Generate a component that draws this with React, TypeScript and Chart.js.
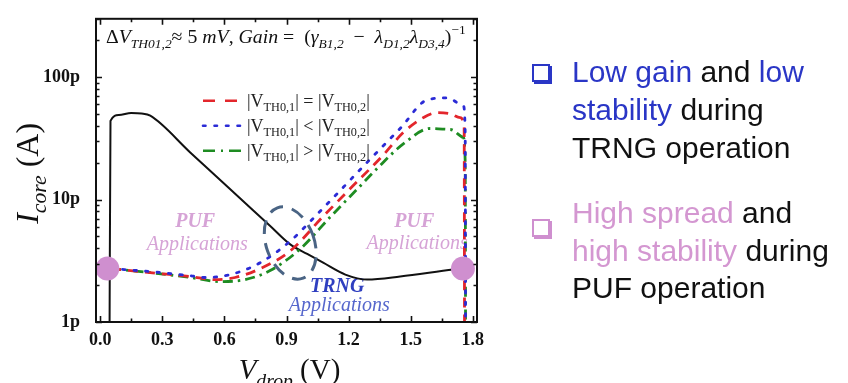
import { useEffect, useRef } from 'react';
import { Chart, registerables } from 'chart.js';

Chart.register(...registerables);

const SERIF = '"Liberation Serif", "Times New Roman", serif';
const SANS = '"Liberation Sans", Arial, sans-serif';

// ---- data (V in volts, I in pA) ----
const blackV = [0.045, 0.05, 0.09, 0.15, 0.2, 0.242, 0.435, 0.627, 0.82, 0.918, 1.0, 1.077, 1.184, 1.29, 1.449, 1.705, 1.749];
const blackI = [0.5, 44, 49, 51, 50.5, 48.5, 24.3, 12.2, 6.12, 4.31, 3.6, 3.05, 2.44, 2.22, 2.35, 2.68, 2.73];

const redV = [0.053, 0.242, 0.435, 0.556, 0.652, 0.773, 0.918, 1.077, 1.208, 1.367, 1.464, 1.56, 1.628, 1.691, 1.739, 1.758, 1.76];
const redI = [2.73, 2.53, 2.35, 2.22, 2.31, 2.73, 3.81, 7.29, 12.3, 23.1, 35.3, 46.7, 51.3, 50.3, 46.7, 38.8, 0.5];

const blueV = [0.053, 0.242, 0.435, 0.507, 0.628, 0.773, 0.918, 1.029, 1.174, 1.304, 1.449, 1.58, 1.676, 1.754, 1.763, 1.765];
const blueI = [2.73, 2.58, 2.39, 2.31, 2.44, 3.05, 4.58, 7.03, 12.6, 21.4, 38.1, 65.3, 67.7, 58.3, 35.3, 0.5];

const greenV = [0.053, 0.242, 0.435, 0.58, 0.7, 0.821, 0.966, 1.111, 1.242, 1.338, 1.464, 1.594, 1.691, 1.754, 1.763, 1.765];
const greenI = [2.73, 2.53, 2.31, 2.14, 2.22, 2.63, 3.95, 7.2, 12.2, 18.0, 28.5, 38.1, 37.4, 32.2, 20.3, 0.5];

const circleV = [0.035, 1.752];
const circleI = [2.73, 2.73];

const xTickValues = [0, 0.3, 0.6, 0.9, 1.2, 1.5, 1.8];
const xTickLabels = ['0.0', '0.3', '0.6', '0.9', '1.2', '1.5', '1.8'];
const yTickValues = [1, 10, 100];
const yTickLabels = ['1p', '10p', '100p'];

const RED = '#e3262c';
const BLUE = '#2b2bd6';
const GREEN = '#1e8c22';
const PINK = '#cf8fcf';
const PINK_T = '#d6a3d6';
const BLUE_T = '#2f3fc0';
const BLUE_T2 = '#5566cc';

type Part = { t: string; i?: boolean; b?: boolean; sub?: boolean; sup?: boolean };

const topText: Part[] = [
  { t: 'Δ' }, { t: 'V', i: true }, { t: 'TH01,2', i: true, sub: true }, { t: '≈ 5 ' }, { t: 'mV', i: true },
  { t: ', ' }, { t: 'Gain', i: true }, { t: ' =  (' }, { t: 'γ', i: true }, { t: 'B1,2', i: true, sub: true },
  { t: '  −  ' }, { t: 'λ', i: true }, { t: 'D1,2', i: true, sub: true }, { t: 'λ', i: true },
  { t: 'D3,4', i: true, sub: true }, { t: ')' }, { t: '−1', sup: true },
];

const legendItems = [
  { color: RED, dash: [12, 10], cap: 'butt', sub2: '=' },
  { color: BLUE, dash: [2.5, 9], cap: 'round', sub2: '<' },
  { color: GREEN, dash: [12, 6, 2, 6], cap: 'butt', sub2: '>' },
];

const textNotes = [
  { t: 'PUF', v: 0.459, i: 6.53, b: true, it: true, color: PINK_T, size: 20 },
  { t: 'Applications', v: 0.469, i: 4.26, b: false, it: true, color: PINK_T, size: 20 },
  { t: 'PUF', v: 1.517, i: 6.53, b: true, it: true, color: PINK_T, size: 20 },
  { t: 'Applications', v: 1.531, i: 4.34, b: false, it: true, color: PINK_T, size: 20 },
  { t: 'TRNG', v: 1.145, i: 1.95, b: true, it: true, color: BLUE_T, size: 20 },
  { t: 'Applications', v: 1.155, i: 1.35, b: false, it: true, color: BLUE_T2, size: 20 },
];

function partFont(p: Part, size: number) {
  const s = p.sub || p.sup ? size * 0.68 : size;
  return `${p.i ? 'italic ' : ''}${p.b ? 'bold ' : ''}${s}px ${SERIF}`;
}
function richWidth(ctx: CanvasRenderingContext2D, parts: Part[], size: number) {
  let w = 0;
  for (const p of parts) {
    ctx.font = partFont(p, size);
    w += ctx.measureText(p.t).width;
  }
  return w;
}
function drawRich(ctx: CanvasRenderingContext2D, parts: Part[], x: number, y: number, size: number, align: string) {
  const w = richWidth(ctx, parts, size);
  let cx = align === 'center' ? x - w / 2 : x;
  ctx.textAlign = 'left';
  ctx.textBaseline = 'alphabetic';
  for (const p of parts) {
    ctx.font = partFont(p, size);
    const dy = p.sub ? size * 0.26 : p.sup ? -size * 0.42 : 0;
    ctx.fillText(p.t, cx, y + dy);
    cx += ctx.measureText(p.t).width;
  }
}

const pts = (xs: number[], ys: number[]) => xs.map((x, k) => ({ x, y: ys[k] }));

const decor = {
  id: 'decor',
  beforeDatasetsDraw(chart: any) {
    const { ctx } = chart;
    const xs = chart.scales.x;
    const ys = chart.scales.y;
    ctx.save();
    for (const n of textNotes) {
      ctx.font = `${n.it ? 'italic ' : ''}${n.b ? 'bold ' : ''}${n.size}px ${SERIF}`;
      ctx.fillStyle = n.color;
      ctx.textAlign = 'center';
      ctx.textBaseline = 'middle';
      ctx.fillText(n.t, xs.getPixelForValue(n.v), ys.getPixelForValue(n.i));
    }
    ctx.restore();
  },
  afterDatasetsDraw(chart: any) {
    const { ctx } = chart;
    const xs = chart.scales.x;
    const ys = chart.scales.y;
    // TRNG ellipse
    const ev = 0.918, ei = 4.42;
    const cx = xs.getPixelForValue(ev);
    const cy = ys.getPixelForValue(ei);
    const rx = xs.getPixelForValue(ev + 0.116) - cx;
    const ry = cy - ys.getPixelForValue(ei * Math.pow(10, 0.306));
    ctx.save();
    ctx.strokeStyle = '#4a6484';
    ctx.lineWidth = 3;
    ctx.setLineDash([14, 9]);
    ctx.beginPath();
    ctx.ellipse(cx, cy, rx, ry, -0.35, 0, Math.PI * 2);
    ctx.stroke();
    ctx.restore();
  },
  afterDraw(chart: any) {
    const { ctx, chartArea: ca } = chart;
    const xs = chart.scales.x;
    const ys = chart.scales.y;
    ctx.save();
    ctx.strokeStyle = '#111';
    ctx.lineWidth = 2;
    ctx.setLineDash([]);
    ctx.strokeRect(ca.left, ca.top, ca.right - ca.left, ca.bottom - ca.top);
    ctx.lineWidth = 1.6;
    ctx.beginPath();
    const xt = (v: number, len: number) => {
      const px = Math.round(xs.getPixelForValue(v)) + 0.5;
      if (px < ca.left || px > ca.right) return;
      ctx.moveTo(px, ca.bottom); ctx.lineTo(px, ca.bottom - len);
      ctx.moveTo(px, ca.top); ctx.lineTo(px, ca.top + len);
    };
    for (let k = 0; k < xTickValues.length; k++) {
      xt(xTickValues[k], 6);
      if (k < xTickValues.length - 1) xt((xTickValues[k] + xTickValues[k + 1]) / 2, 3.5);
    }
    const yt = (v: number, len: number) => {
      const py = Math.round(ys.getPixelForValue(v)) + 0.5;
      if (py < ca.top - 0.5 || py > ca.bottom + 0.5) return;
      ctx.moveTo(ca.left, py); ctx.lineTo(ca.left + len, py);
      ctx.moveTo(ca.right, py); ctx.lineTo(ca.right - len, py);
    };
    for (const d of yTickValues) {
      yt(d, 6);
      for (let m = 2; m <= 9; m++) yt(d * m, 3.5);
    }
    ctx.stroke();

    // top formula
    ctx.fillStyle = '#111';
    const base = 18;
    const w = richWidth(ctx, topText, base);
    drawRich(ctx, topText, ca.left + 10, ca.top + 24, base * (360 / w), 'left');

    // legend
    const lx = ca.left + 107;
    for (let k = 0; k < legendItems.length; k++) {
      const it = legendItems[k];
      const cyy = ca.top + 82 + k * 25;
      ctx.save();
      ctx.strokeStyle = it.color;
      ctx.lineWidth = 2.6;
      ctx.lineCap = it.cap;
      ctx.setLineDash(it.dash);
      ctx.beginPath();
      ctx.moveTo(lx, cyy);
      ctx.lineTo(lx + 42, cyy);
      ctx.stroke();
      ctx.restore();
      ctx.fillStyle = '#222';
      const parts: Part[] = [
        { t: '|V' }, { t: 'TH0,1', sub: true }, { t: `| ${it.sub2} |V` }, { t: 'TH0,2', sub: true }, { t: '|' },
      ];
      drawRich(ctx, parts, lx + 44, cyy + 6, 18, 'left');
    }

    // axis titles
    ctx.fillStyle = '#111';
    const xTitle: Part[] = [{ t: 'V', i: true }, { t: 'drop', i: true, sub: true }, { t: ' (V)' }];
    drawRich(ctx, xTitle, (ca.left + ca.right) / 2 + 3, 379, 29, 'center');
    const yTitle: Part[] = [{ t: 'I', i: true }, { t: 'core', i: true, sub: true }, { t: ' (A)' }];
    ctx.save();
    ctx.translate(38, (ca.top + ca.bottom) / 2 + 3);
    ctx.rotate(-Math.PI / 2);
    drawRich(ctx, yTitle, 0, 0, 32, 'center');
    ctx.restore();
    ctx.restore();
  },
};

function ChartBox() {
  const ref = useRef<HTMLCanvasElement | null>(null);
  useEffect(() => {
    if (!ref.current) return;
    const chart = new Chart(ref.current, {
      type: 'scatter',
      data: {
        datasets: [
          {
            data: pts(circleV, circleI), showLine: false, pointRadius: 12, pointHoverRadius: 12,
            backgroundColor: PINK, borderWidth: 0,
          } as any,
          {
            data: pts(blueV, blueI), showLine: true, pointRadius: 0, borderColor: BLUE, borderWidth: 2.8,
            borderDash: [2.5, 9], borderCapStyle: 'round', cubicInterpolationMode: 'monotone',
          },
          {
            data: pts(redV, redI), showLine: true, pointRadius: 0, borderColor: RED, borderWidth: 2.8,
            borderDash: [10, 7], cubicInterpolationMode: 'monotone',
          },
          {
            data: pts(greenV, greenI), showLine: true, pointRadius: 0, borderColor: GREEN, borderWidth: 2.8,
            borderDash: [10, 5, 2.5, 5], cubicInterpolationMode: 'monotone',
          },
          {
            data: pts(blackV, blackI), showLine: true, pointRadius: 0, borderColor: '#111', borderWidth: 2,
            cubicInterpolationMode: 'monotone',
          },
        ],
      },
      options: {
        responsive: false,
        animation: false,
        devicePixelRatio: 1,
        layout: { padding: { left: 0, top: 15, right: 371, bottom: 0 } },
        plugins: { legend: { display: false }, tooltip: { enabled: false } },
        events: [],
        scales: {
          x: {
            type: 'linear', min: -0.02, max: 1.82,
            grid: { display: false }, border: { display: false },
            afterBuildTicks: (s: any) => { s.ticks = xTickValues.map((v) => ({ value: v })); },
            afterFit: (s: any) => { s.height = 61; },
            ticks: {
              padding: 0, color: '#111', maxRotation: 0, autoSkip: false,
              font: { family: SERIF, size: 18, weight: 'bold' },
              callback: (v: any) => {
                const k = xTickValues.findIndex((t) => Math.abs(t - Number(v)) < 1e-6);
                return k >= 0 ? xTickLabels[k] : '';
              },
            },
          },
          y: {
            type: 'logarithmic', min: 1, max: 300,
            grid: { display: false }, border: { display: false },
            afterBuildTicks: (s: any) => { s.ticks = yTickValues.map((v) => ({ value: v, major: true })); },
            afterFit: (s: any) => { s.width = 96; },
            ticks: {
              padding: 8, color: '#111', autoSkip: false,
              font: { family: SERIF, size: 18, weight: 'bold' },
              callback: (v: any) => {
                const k = yTickValues.findIndex((t) => Math.abs(t - Number(v)) < 1e-6);
                return k >= 0 ? yTickLabels[k] : '';
              },
            },
          },
        },
      } as any,
      plugins: [decor],
    });
    return () => chart.destroy();
  }, []);
  return <canvas ref={ref} width={848} height={383} style={{ display: 'block', position: 'absolute', left: 0, top: 0 }} />;
}

const boxStyle = (c: string, top: number): any => ({
  position: 'absolute', left: 532, top, width: 14, height: 14,
  border: `2px solid ${c}`, boxShadow: `2px 2px 0 0 ${c}`, background: '#fff',
});

export default function App() {
  const blue = { color: '#2a36c6' };
  const pink = { color: '#d497d1' };
  const block: any = {
    position: 'absolute', left: 572, fontFamily: SANS, fontSize: 30, color: '#111', whiteSpace: 'nowrap',
  };
  return (
    <div style={{ position: 'fixed', left: 0, top: 0, width: 848, height: 383, background: '#fff', overflow: 'hidden' }}>
      <ChartBox />
      <div style={boxStyle('#2a36c6', 64)} />
      <div style={{ ...block, top: 53, lineHeight: '38px' }}>
        <span style={blue}>Low gain</span> and <span style={blue}>low</span><br />
        <span style={blue}>stability</span> during<br />
        TRNG operation
      </div>
      <div style={boxStyle('#cf8fcf', 219)} />
      <div style={{ ...block, top: 194, lineHeight: '37.5px' }}>
        <span style={pink}>High spread</span> and<br />
        <span style={pink}>high stability</span> during<br />
        PUF operation
      </div>
    </div>
  );
}
